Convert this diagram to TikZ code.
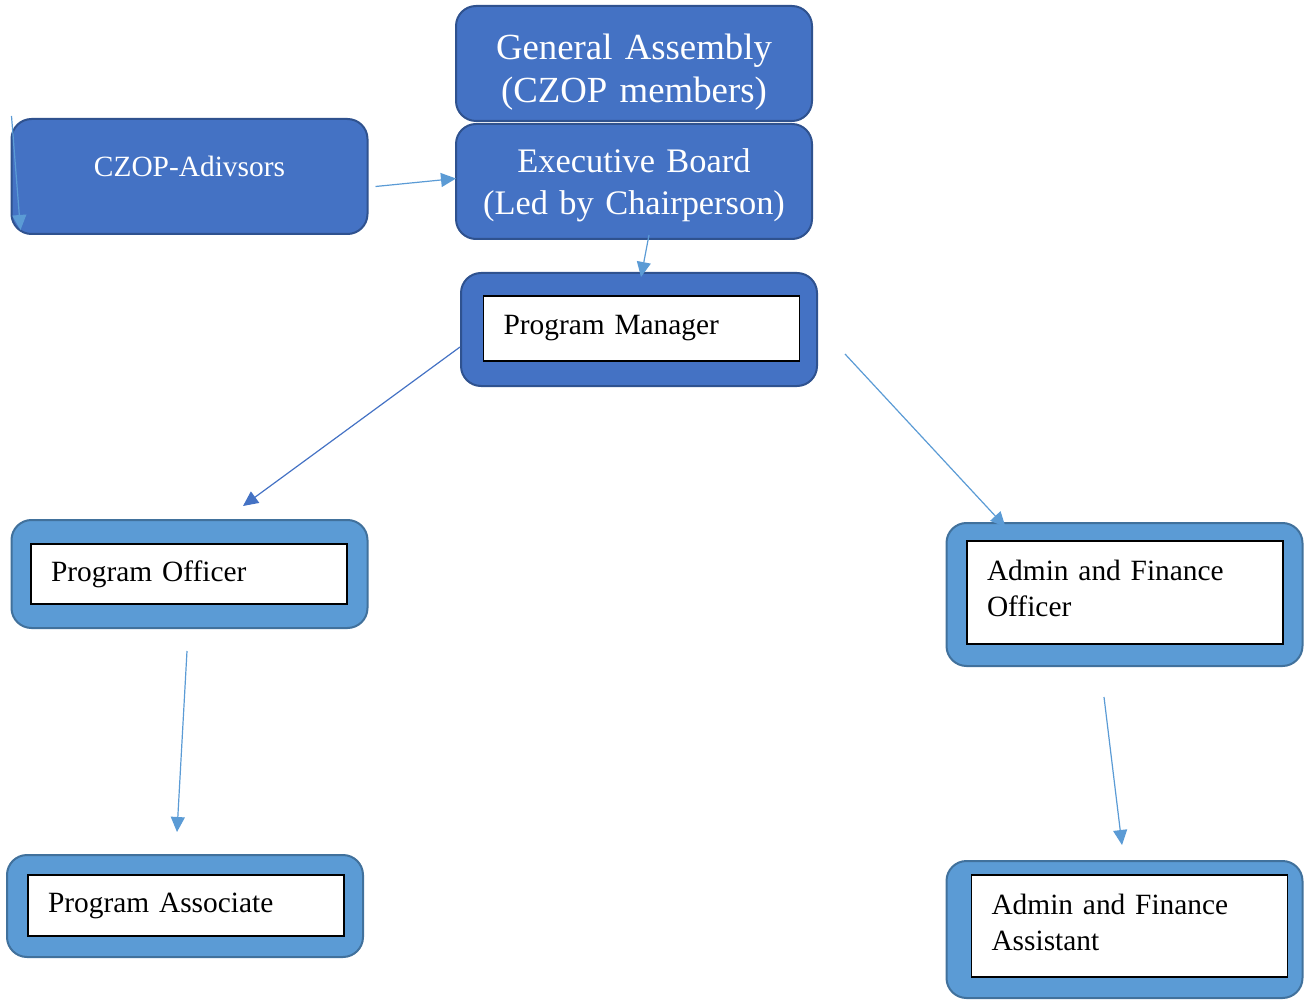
\documentclass[tikz,border=0pt]{standalone}
\usepackage{fontspec}
\setmainfont{Liberation Serif}
\usepackage{tikz}
\usetikzlibrary{arrows.meta,positioning}

\definecolor{darkblue}{HTML}{4472C4}
\definecolor{darkline}{HTML}{2F528F}
\definecolor{lightblue}{HTML}{5B9BD5}
\definecolor{lightline}{HTML}{41719C}

\begin{document}
\begin{tikzpicture}[x=0.5pt,y=-0.5pt,->,>={Triangle[length=7.5pt,width=7pt]},
                    semithick]
  \tikzstyle{every edge}=[draw,lightblue]
  \tikzstyle{unit}=[rectangle,rounded corners=10pt,line width=1pt,outer sep=0pt,
                    minimum width=178pt]
  \tikzstyle{top unit}=[unit,fill=darkblue,draw=darkline,text=white]
  \tikzstyle{staff unit}=[unit,fill=lightblue,draw=lightline]
  \tikzstyle{post}=[rectangle,draw=black,fill=white,line width=0.75pt,
                    inner xsep=10pt,inner ysep=0pt,text width=138pt,align=left,
                    font=\fontsize{14.7}{18}\selectfont]
  \tikzstyle{big text}=[text width=172pt,inner xsep=0pt,align=center,
                        text height=12pt]

  \useasboundingbox (0,0) rectangle (1307,1000);

  % board
  \node[top unit,big text,minimum height=57.5pt,text depth=15.5pt,
        font=\fontsize{18.4}{21.5}\selectfont]
        (GA) at (634,63.5) {General Assembly\\(CZOP members)};
  \node[top unit,big text,minimum height=57.5pt,text depth=20.5pt,
        font=\fontsize{17.2}{21}\selectfont]
        (EB) [below=1.5pt of GA] {Executive Board\\(Led by Chairperson)};
  \node[top unit,minimum height=57.5pt,font=\fontsize{14.7}{18}\selectfont,
        text height=10pt,text depth=10pt] (ADV) at (189.5,176.5) {CZOP-Adivsors};
  \coordinate (ADVin) at (11.5,116);

  % staff
  \node[top unit,minimum height=56.5pt] (PM) at (639,329.5) {};
  \node[post,minimum height=32.5pt] (PMt) at (641.5,328.5) {Program Manager};

  \node[staff unit,minimum height=54pt] (PO) at (189.5,574) {};
  \node[post,minimum height=30pt] (POt) at (189,574) {Program Officer};

  \node[staff unit,minimum height=71.5pt] (AFO) at (1124.5,594.5) {};
  \node[post,minimum height=51.5pt,text height=10pt,text depth=22pt]
        (AFOt) at (1125,592.5) {Admin and Finance\\Officer};

  \node[staff unit,minimum height=51pt] (PA) at (185,906) {};
  \node[post,minimum height=30.5pt] (PAt) at (186,905.5) {Program Associate};

  \node[staff unit,minimum height=68.5pt] (AFA) at (1124.5,929.5) {};
  \node[post,minimum height=51pt,text height=10pt,text depth=22pt]
        (AFAt) at (1129.5,926) {Admin and Finance\\Assistant};

  \path (ADVin) edge ([shift={(9,-4)}]ADV.south west)
        ([shift={(8,10)}]ADV.east) edge ([shift={(0,-3)}]EB.west)
        ([shift={(15,-4)}]EB.south) edge ([shift={(2,4)}]PM.north)
        ([shift={(-1,17.5)}]PM.west) edge[darkblue] ([shift={(53.5,-14)}]PO.north)
        ([shift={(28,24.5)}]PM.east) edge ([shift={(59,4)}]AFO.north west)
        ([shift={(-2.5,23)}]PO.south) edge ([shift={(-8,-23)}]PA.north)
        ([shift={(-20.5,31)}]AFO.south) edge ([shift={(-2.5,-16)}]AFA.north);
\end{tikzpicture}
\end{document}
